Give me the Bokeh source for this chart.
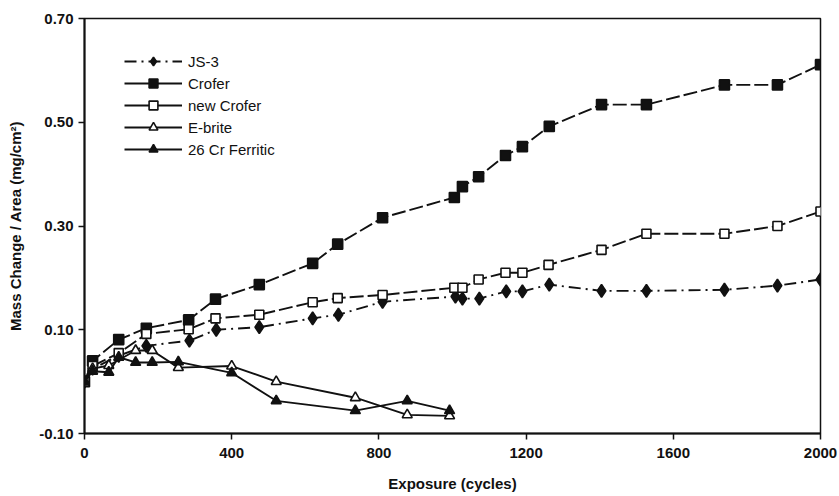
from bokeh.plotting import figure
from bokeh.models import (Range1d, FixedTicker, NumeralTickFormatter, Legend, LegendItem,
                          ColumnDataSource)
from bokeh.embed import file_html
from bokeh.resources import INLINE

# ---------------- data ----------------
js3_x = [0, 22, 93, 168, 285, 358, 475, 620, 690, 810, 1008, 1027, 1073, 1146, 1190, 1263, 1405, 1527, 1739, 1883, 2000]
js3_y = [0.0, 0.025, 0.05, 0.069, 0.079, 0.100, 0.105, 0.122, 0.129, 0.154, 0.164, 0.160, 0.160, 0.174, 0.174, 0.187, 0.175, 0.175, 0.177, 0.185, 0.197]

crofer_x = [0, 22, 93, 168, 283, 356, 475, 620, 688, 810, 1005, 1027, 1071, 1144, 1190, 1263, 1405, 1527, 1739, 1883, 2000]
crofer_y = [0.0, 0.040, 0.081, 0.103, 0.119, 0.159, 0.187, 0.228, 0.265, 0.316, 0.355, 0.376, 0.395, 0.436, 0.453, 0.492, 0.534, 0.534, 0.572, 0.572, 0.611]

newcrofer_x = [0, 22, 93, 168, 283, 356, 475, 620, 688, 810, 1005, 1027, 1071, 1144, 1190, 1261, 1405, 1527, 1739, 1883, 2000]
newcrofer_y = [0.0, 0.030, 0.055, 0.092, 0.101, 0.122, 0.129, 0.153, 0.161, 0.167, 0.181, 0.181, 0.197, 0.210, 0.210, 0.225, 0.254, 0.285, 0.285, 0.300, 0.328]

ebrite_x = [0, 22, 66, 139, 184, 255, 400, 521, 736, 877, 992]
ebrite_y = [0.0, 0.025, 0.031, 0.060, 0.060, 0.027, 0.030, 0.0, -0.031, -0.064, -0.066]

cr26_x = [0, 22, 66, 93, 139, 184, 255, 400, 521, 736, 877, 992]
cr26_y = [0.0, 0.020, 0.018, 0.047, 0.037, 0.037, 0.038, 0.017, -0.037, -0.056, -0.037, -0.056]

x_ticks = [0, 400, 800, 1200, 1600, 2000]
y_ticks = [-0.10, 0.10, 0.30, 0.50, 0.70]

FONT = "Liberation Sans"

p = figure(width=839, height=496, output_backend="svg", toolbar_location=None,
           x_range=Range1d(0, 2000), y_range=Range1d(-0.10, 0.70),
           min_border_left=84, min_border_right=19, min_border_top=18, min_border_bottom=63)
p.grid.visible = False
p.background_fill_color = "white"
p.border_fill_color = "white"
p.outline_line_color = "#111111"
p.outline_line_width = 1.5

for ax in (p.xaxis[0], p.yaxis[0]):
    ax.axis_line_width = 2
    ax.axis_line_color = "#111111"
    ax.major_tick_line_width = 1.5
    ax.major_tick_line_color = "#111111"
    ax.major_tick_out = 6
    ax.major_tick_in = 0
    ax.minor_tick_out = 0
    ax.minor_tick_in = 0
    ax.major_label_text_font = FONT
    ax.major_label_text_font_style = "bold"
    ax.major_label_text_font_size = "15px"
    ax.major_label_text_color = "#111111"
    ax.axis_label_text_font = FONT
    ax.axis_label_text_font_style = "bold"
    ax.axis_label_text_font_size = "15px"
    ax.axis_label_text_color = "#111111"

p.xaxis.ticker = FixedTicker(ticks=x_ticks)
p.yaxis.ticker = FixedTicker(ticks=y_ticks)
p.yaxis.formatter = NumeralTickFormatter(format="0.00")
p.xaxis.axis_label = "Exposure (cycles)"
p.yaxis.axis_label = "Mass Change / Area (mg/cm²)"
p.xaxis.major_label_standoff = 8
p.xaxis.axis_label_standoff = 14
p.yaxis.major_label_standoff = 5
p.yaxis.axis_label_standoff = 12

C = "#111111"
series = [
    ("JS-3", js3_x, js3_y, "diamond", 13, C, "12 5 2 5"),
    ("Crofer", crofer_x, crofer_y, "square", 10, C, "14 4"),
    ("new Crofer", newcrofer_x, newcrofer_y, "square", 9, "white", "14 4"),
    ("E-brite", ebrite_x, ebrite_y, "triangle", 10, "white", "solid"),
    ("26 Cr Ferritic", cr26_x, cr26_y, "triangle", 10, C, "solid"),
]
legend_dash = {"JS-3": "12 5 2 5"}

items = []
for name, xs, ys, marker, size, fill, dash in series:
    src = ColumnDataSource(dict(x=xs, y=ys))
    p.line("x", "y", source=src, line_color=C, line_width=1.9, line_dash=dash)
    p.scatter("x", "y", source=src, marker=marker, size=size, fill_color=fill,
              line_color=C, line_width=1.6)
    # legend representative glyphs
    dummy = ColumnDataSource(dict(x=[float("nan")], y=[float("nan")]))
    lr = p.line("x", "y", source=dummy, line_color=C, line_width=1.9,
                line_dash=legend_dash.get(name, "solid"))
    sr = p.scatter("x", "y", source=dummy, marker=marker, size=size, fill_color=fill,
                   line_color=C, line_width=1.6)
    items.append(LegendItem(label=name, renderers=[lr, sr]))

legend = Legend(items=items, location=(40, 273), padding=0, margin=0, spacing=0,
                glyph_width=58, glyph_height=22, label_height=22, label_standoff=6,
                border_line_color=None, background_fill_alpha=0,
                label_text_font=FONT, label_text_font_size="15px", label_text_color=C)
p.add_layout(legend, "center")

open("out.html", "w").write(file_html(p, INLINE))
